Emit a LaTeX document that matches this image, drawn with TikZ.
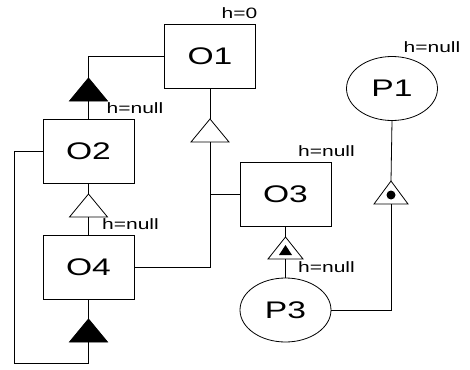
\documentclass[tikz,border=0pt]{standalone}
\usepackage{fontspec}
\setmainfont{Liberation Sans}
\usepackage{graphicx}
\usetikzlibrary{shapes.geometric}

\newcommand{\wide}[1]{\scalebox{1.4}[1]{#1}}

\tikzset{
  obj/.style={draw, rectangle, minimum width=91pt, minimum height=64pt,
    inner sep=0pt, font=\fontsize{24}{28}\selectfont},
  prc/.style={draw, ellipse, minimum width=91pt, minimum height=64pt,
    inner sep=0pt, font=\fontsize{24}{28}\selectfont},
  hlab/.style={inner sep=0pt, font=\fontsize{15}{18}\selectfont}
}

\begin{document}
\begin{tikzpicture}[x=1pt, y=-1pt, line width=0.8pt]
  \useasboundingbox (0,0) rectangle (470,369);

  % The four objects
  \node[obj] (O1) at (210,56) {\wide{O1}};
  \node[obj] (O2) at (88.5,151.5) {\wide{O2}};
  \node[obj] (O3) at (285.5,194) {\wide{O3}};
  \node[obj] (O4) at (88.5,267.5) {\wide{O4}};

  % The two processes
  \node[prc] (P1) at (392,88.5) {\wide{P1}};
  \node[prc] (P3) at (285.5,310) {\wide{P3}};

  % Triangles on the links (base point and apex)
  \coordinate (t12) at (88.5,101);  \coordinate (t12a) at (88.5,78);
  \coordinate (t13) at (210,142);   \coordinate (t13a) at (210,119);
  \coordinate (t24) at (88.5,217);  \coordinate (t24a) at (88.5,194);
  \coordinate (t44) at (88.5,342);  \coordinate (t44a) at (88.5,319);
  \coordinate (t35) at (285.5,259); \coordinate (t35a) at (285.5,237);
  \coordinate (t16) at (391,204);   \coordinate (t16a) at (391,181);

  \draw[fill=black] (t12) ++(-19,0) -- ++(38,0) -- (t12a) -- cycle;
  \draw (t13) ++(-19,0) -- ++(38,0) -- (t13a) -- cycle;
  \draw (t24) ++(-19,0) -- ++(38,0) -- (t24a) -- cycle;
  \draw[fill=black] (t44) ++(-19,0) -- ++(38,0) -- (t44a) -- cycle;
  \draw (t35) ++(-17.5,0) -- ++(35,0) -- (t35a) -- cycle;
  \fill (t35) ++(-6.5,-4) -- ++(13,0) -- ++(-6.5,-10) -- cycle;
  \draw (t16) ++(-17,0) -- ++(34,0) -- (t16a) -- cycle;
  \fill (391,195) circle (4.5);

  % Links
  \draw (O1.west) -| (t12a);
  \draw (t12) -- (O2.north);
  \draw (O1.south) -- (t13a);
  \draw (t13) |- (O4.east);
  \draw (O3.west) -| (t13);
  \draw (O2.south) -- (t24a);
  \draw (t24) -- (O4.north);
  \coordinate (loop) at (14,363);
  \draw (O2.west) -| (loop) -| (t44);
  \draw (t44a) -- (O4.south);
  \draw (O3.south) -- (t35a);
  \draw (t35) -- (P3.north);
  \draw (P1.south) -- (t16a);
  \draw (t16) |- (P3.east);

  % Labels
  \node[hlab] (h1) at (239.5,13) {\wide{h=0}};
  \node[hlab] (h2) at (135,108) {\wide{h=null}};
  \node[hlab] (h3) at (326.5,151) {\wide{h=null}};
  \node[hlab] (h4) at (130.5,224) {\wide{h=null}};
  \node[hlab] (h5) at (326.5,267) {\wide{h=null}};
  \node[hlab] (h6) at (432,47) {\wide{h=null}};
\end{tikzpicture}
\end{document}
